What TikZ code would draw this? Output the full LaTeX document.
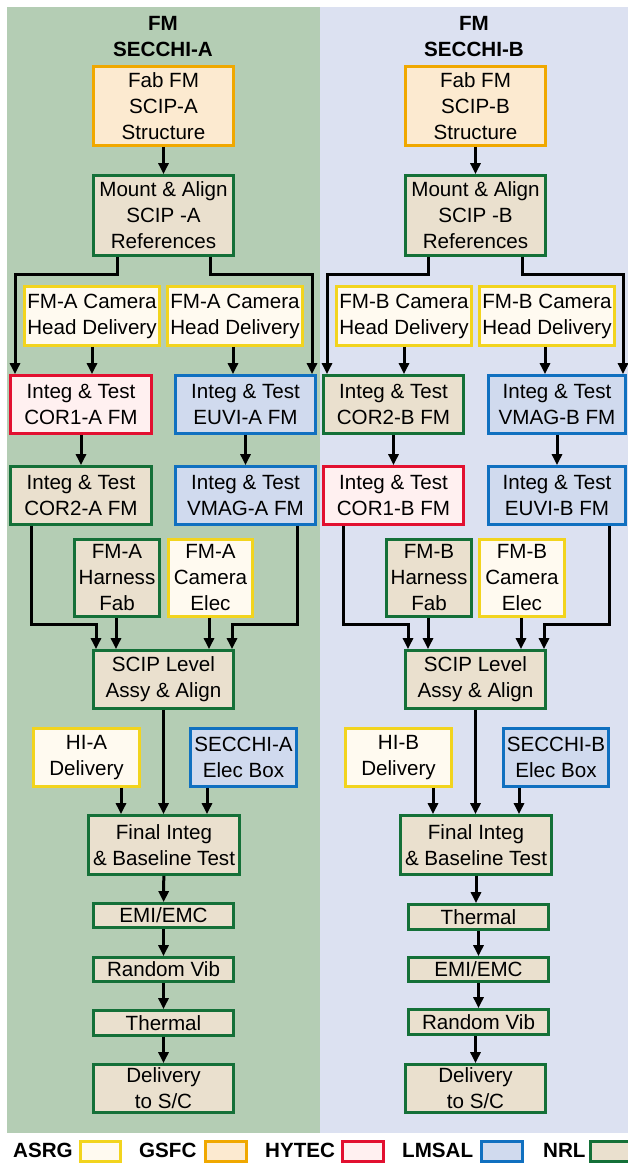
\documentclass[tikz,border=0pt]{standalone}
\usepackage{fontspec}
\setmainfont{Liberation Sans}
\usetikzlibrary{arrows.meta}
\definecolor{panelA}{RGB}{180,205,180}
\definecolor{panelB}{RGB}{220,225,241}
\definecolor{asrgline}{RGB}{242,212,30}
\definecolor{asrgfill}{RGB}{255,250,240}
\definecolor{gsfcline}{RGB}{240,168,0}
\definecolor{gsfcfill}{RGB}{252,234,208}
\definecolor{hytecline}{RGB}{226,16,48}
\definecolor{hytecfill}{RGB}{255,240,240}
\definecolor{lmsalline}{RGB}{16,112,192}
\definecolor{lmsalfill}{RGB}{208,218,238}
\definecolor{nrlline}{RGB}{20,112,56}
\definecolor{nrlfill}{RGB}{234,224,206}
\newcommand\boxfont{\fontsize{20.6}{26}\selectfont}
\tikzset{brd/.style={draw, line width=2.7pt, inner sep=0pt, align=center, font=\boxfont},
  asrg/.style={brd, draw=asrgline, fill=asrgfill},
  gsfc/.style={brd, draw=gsfcline, fill=gsfcfill},
  hytec/.style={brd, draw=hytecline, fill=hytecfill},
  lmsal/.style={brd, draw=lmsalline, fill=lmsalfill},
  nrl/.style={brd, draw=nrlline, fill=nrlfill},
  wire/.style={line width=3pt, -{Triangle[length=11pt,width=10pt]}},
  ttl/.style={font=\boxfont\bfseries, align=center, inner sep=0pt},
  legtxt/.style={font=\boxfont\bfseries, inner sep=0pt, anchor=base west}}

\begin{document}
\begin{tikzpicture}[x=1pt, y=-1pt]

  \useasboundingbox (0,0) rectangle (628,1164);
  \clip (0,0) rectangle (628,1164);

  % ---------- two panels ----------
  \fill[panelA] (7,7) rectangle (320,1133);
  \fill[panelB] (320,7) rectangle (628,1133);
  \node[ttl] (ttlA) at (163,36.5) {FM\\SECCHI-A};
  \node[ttl] (ttlB) at (474,36.5) {FM\\SECCHI-B};

  % ---------- SECCHI-A ----------
  \node[gsfc, minimum width=140, minimum height=79] (fabA) at (163.5,106) {Fab FM\\SCIP-A\\Structure};
  \node[nrl, minimum width=140, minimum height=80] (mntA) at (163.5,215.5) {Mount \& Align\\SCIP -A\\References};
  \node[asrg, minimum width=135, minimum height=59] (camA1) at (92,316) {FM-A Camera\\Head Delivery};
  \node[asrg, minimum width=135, minimum height=59] (camA2) at (235,316) {FM-A Camera\\Head Delivery};
  \node[hytec, minimum width=141, minimum height=58] (cor1A) at (81,404.5) {Integ \& Test\\COR1-A FM};
  \node[lmsal, minimum width=140, minimum height=58] (euviA) at (245.5,404.5) {Integ \& Test\\EUVI-A FM};
  \node[nrl, minimum width=141, minimum height=58] (cor2A) at (81,495.5) {Integ \& Test\\COR2-A FM};
  \node[lmsal, minimum width=140, minimum height=58] (vmagA) at (245.5,495.5) {Integ \& Test\\VMAG-A FM};
  \node[nrl, minimum width=85, minimum height=77] (harnA) at (117,578) {FM-A\\Harness\\Fab};
  \node[asrg, minimum width=84, minimum height=77] (celA) at (210.5,578) {FM-A\\Camera\\Elec};
  \node[nrl, minimum width=140, minimum height=58] (scipA) at (163.5,679.5) {SCIP Level\\Assy \& Align};
  \node[asrg, minimum width=106, minimum height=58] (hiA) at (86.5,757.5) {HI-A\\Delivery};
  \node[lmsal, minimum width=106, minimum height=58] (eboxA) at (243.5,757.5) {SECCHI-A\\Elec Box};
  \node[nrl, minimum width=151, minimum height=59] (finA) at (164,845) {Final Integ\\\& Baseline Test};
  \node[nrl, minimum width=140, minimum height=24] (emiA) at (163.5,915.5) {EMI/EMC};
  \node[nrl, minimum width=140, minimum height=24] (vibA) at (163.5,969.5) {Random Vib};
  \node[nrl, minimum width=140, minimum height=25] (thA) at (163.5,1023) {Thermal};
  \node[nrl, minimum width=140, minimum height=48] (delA) at (163.5,1088.5) {Delivery\\to S/C};

  \draw[wire] (fabA) -- (mntA);
  \draw[wire] ([xshift=-46.5]mntA.south) -- ++(0,17.5) -| ([xshift=-66]cor1A.north);
  \draw[wire] ([xshift=46.5]mntA.south) -- ++(0,17.5) -| ([xshift=66.5]euviA.north);
  \draw[wire] (camA1.south) -- (camA1.south |- cor1A.north);
  \draw[wire] ([xshift=-2]camA2.south) -- ([xshift=-2]camA2.south |- euviA.north);
  \draw[wire] (cor1A) -- (cor2A);
  \draw[wire] (euviA) -- (vmagA);
  \draw[wire] ([xshift=-50]cor2A.south) -- ++(0,99) -| ([xshift=-67.5]scipA.north);
  \draw[wire] ([xshift=-1]harnA.south) -- ([xshift=-1]harnA.south |- scipA.north);
  \draw[wire] ([xshift=-1.5]celA.south) -- ([xshift=-1.5]celA.south |- scipA.north);
  \draw[wire] ([xshift=51.5]vmagA.south) -- ++(0,99) -| ([xshift=68.5]scipA.north);
  \draw[wire] (scipA) -- (finA.north -| scipA);
  \draw[wire] ([xshift=34.5]hiA.south) -- ([xshift=34.5]hiA.south |- finA.north);
  \draw[wire] ([xshift=-36.5]eboxA.south) -- ([xshift=-36.5]eboxA.south |- finA.north);
  \draw[wire] (finA) -- (emiA);
  \draw[wire] (emiA) -- (vibA);
  \draw[wire] (vibA) -- (thA);
  \draw[wire] (thA) -- (delA);

  % ---------- SECCHI-B ----------
  \node[gsfc, minimum width=140, minimum height=79] (fabB) at (475.5,106) {Fab FM\\SCIP-B\\Structure};
  \node[nrl, minimum width=140, minimum height=80] (mntB) at (475.5,215.5) {Mount \& Align\\SCIP -B\\References};
  \node[asrg, minimum width=135, minimum height=59] (camB1) at (404,316) {FM-B Camera\\Head Delivery};
  \node[asrg, minimum width=135, minimum height=59] (camB2) at (547,316) {FM-B Camera\\Head Delivery};
  \node[nrl, minimum width=140, minimum height=58] (cor2B) at (393.5,404.5) {Integ \& Test\\COR2-B FM};
  \node[lmsal, minimum width=137, minimum height=58] (vmagB) at (557,404.5) {Integ \& Test\\VMAG-B FM};
  \node[hytec, minimum width=140, minimum height=58] (cor1B) at (393.5,495.5) {Integ \& Test\\COR1-B FM};
  \node[lmsal, minimum width=137, minimum height=58] (euviB) at (557,495.5) {Integ \& Test\\EUVI-B FM};
  \node[nrl, minimum width=85, minimum height=77] (harnB) at (429,578) {FM-B\\Harness\\Fab};
  \node[asrg, minimum width=85, minimum height=77] (celB) at (522,578) {FM-B\\Camera\\Elec};
  \node[nrl, minimum width=140, minimum height=58] (scipB) at (475.5,679.5) {SCIP Level\\Assy \& Align};
  \node[asrg, minimum width=106, minimum height=58] (hiB) at (398.5,757.5) {HI-B\\Delivery};
  \node[lmsal, minimum width=105, minimum height=58] (eboxB) at (556,757.5) {SECCHI-B\\Elec Box};
  \node[nrl, minimum width=151, minimum height=59] (finB) at (476,845) {Final Integ\\\& Baseline Test};
  \node[nrl, minimum width=140, minimum height=25] (thB) at (478.5,917) {Thermal};
  \node[nrl, minimum width=140, minimum height=24] (emiB) at (478.5,969.5) {EMI/EMC};
  \node[nrl, minimum width=140, minimum height=25] (vibB) at (478.5,1022) {Random Vib};
  \node[nrl, minimum width=140, minimum height=48] (delB) at (475.5,1088.5) {Delivery\\to S/C};

  \draw[wire] (fabB) -- (mntB);
  \draw[wire] ([xshift=-47.5]mntB.south) -- ++(0,17.5) -| ([xshift=-66.5]cor2B.north);
  \draw[wire] ([xshift=46.5]mntB.south) -- ++(0,17.5) -| ([xshift=66]vmagB.north);
  \draw[wire] (camB1.south) -- (camB1.south |- cor2B.north);
  \draw[wire] ([xshift=-2]camB2.south) -- ([xshift=-2]camB2.south |- vmagB.north);
  \draw[wire] (cor2B) -- (cor1B);
  \draw[wire] (vmagB) -- (euviB);
  \draw[wire] ([xshift=-50.5]cor1B.south) -- ++(0,99) -| ([xshift=-67.5]scipB.north);
  \draw[wire] ([xshift=-1]harnB.south) -- ([xshift=-1]harnB.south |- scipB.north);
  \draw[wire] ([xshift=-1]celB.south) -- ([xshift=-1]celB.south |- scipB.north);
  \draw[wire] ([xshift=52]euviB.south) -- ++(0,99) -| ([xshift=68.5]scipB.north);
  \draw[wire] (scipB) -- (finB.north -| scipB);
  \draw[wire] ([xshift=34.5]hiB.south) -- ([xshift=34.5]hiB.south |- finB.north);
  \draw[wire] ([xshift=-37]eboxB.south) -- ([xshift=-37]eboxB.south |- finB.north);
  \draw[wire] (finB) -- (finB.south |- thB.north);
  \draw[wire] (thB) -- (emiB);
  \draw[wire] (emiB) -- (vibB);
  \draw[wire] (vibB.south -| delB) -- (delB);

  % ---------- legend ----------
  \node[legtxt] (legasrg) at (13,1157) {ASRG};
  \node[asrg, minimum width=40, minimum height=20] (keyasrg) at (100.5,1151.5) {};
  \node[legtxt] (leggsfc) at (139,1157) {GSFC};
  \node[gsfc, minimum width=41, minimum height=20] (keygsfc) at (226,1151.5) {};
  \node[legtxt] (leghytec) at (265,1157) {HYTEC};
  \node[hytec, minimum width=41, minimum height=20] (keyhytec) at (363,1151.5) {};
  \node[legtxt] (leglmsal) at (402,1157) {LMSAL};
  \node[lmsal, minimum width=41, minimum height=20] (keylmsal) at (502,1151.5) {};
  \node[legtxt] (legnrl) at (543,1157) {NRL};
  \node[nrl, minimum width=41, minimum height=20] (keynrl) at (611,1151.5) {};

\end{tikzpicture}
\end{document}
